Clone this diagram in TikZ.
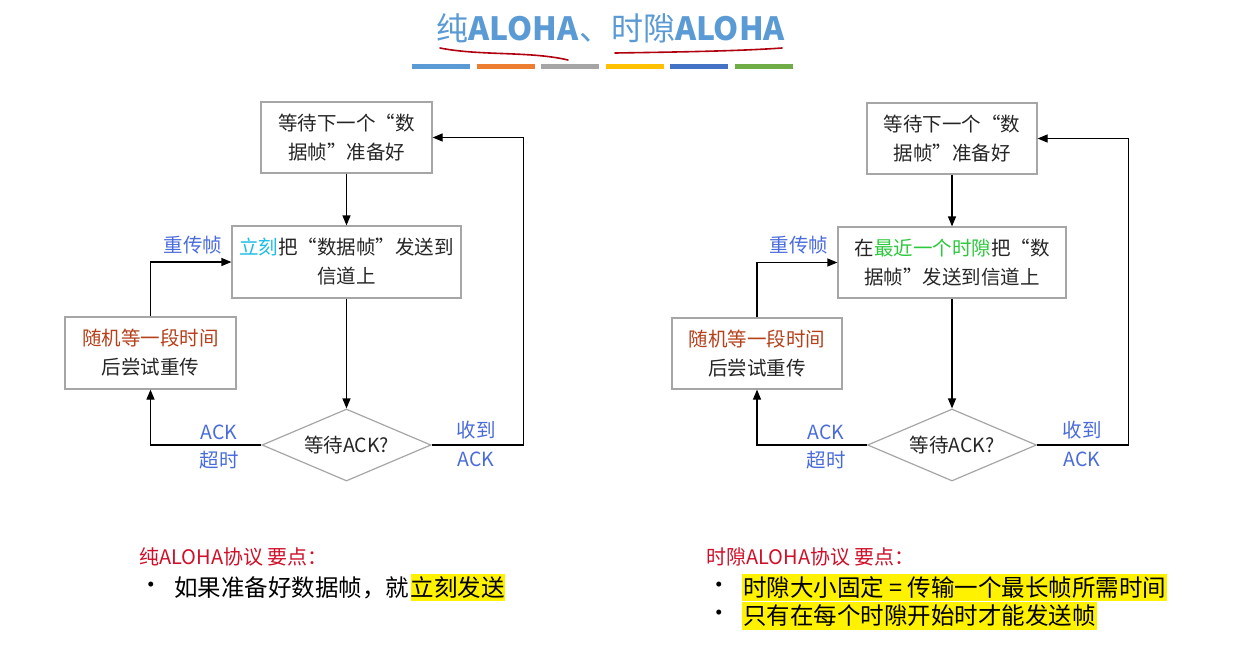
\documentclass[tikz,border=0pt]{standalone}
\usepackage{fontspec}
\setmainfont{Noto Sans CJK SC}
\usetikzlibrary{arrows.meta,shapes.geometric,positioning}

\definecolor{titleblue}{HTML}{5B9BD5}
\definecolor{baro}{HTML}{ED7D31}
\definecolor{barg}{HTML}{A5A5A5}
\definecolor{bary}{HTML}{FFC000}
\definecolor{barb}{HTML}{4472C4}
\definecolor{barv}{HTML}{70AD47}
\definecolor{penred}{HTML}{B00010}
\definecolor{boxgray}{HTML}{A6A6A6}
\definecolor{diagtext}{HTML}{262626}
\definecolor{nowcyan}{HTML}{1BBDE8}
\definecolor{slotgreen}{HTML}{2DC83C}
\definecolor{waitbrown}{HTML}{B5401A}
\definecolor{lblblue}{HTML}{4A6CDB}
\definecolor{notered}{HTML}{D0102A}

\newcommand{\diagfont}{\fontsize{19.5}{29}\selectfont}
\newcommand{\notefont}{\fontsize{23.5}{28}\selectfont}
\newcommand{\headfont}{\fontsize{20}{24}\selectfont}

\begin{document}
\begin{tikzpicture}[x=1pt, y=-1pt,
  box/.style={draw=boxgray, line width=1.2pt, fill=white, align=center,
    inner sep=0pt, text=diagtext, font=\diagfont},
  decide/.style={diamond, draw=boxgray, line width=1.2pt, fill=white,
    inner sep=0pt, shape aspect=2.35, minimum width=169pt,
    minimum height=72pt, text=diagtext, font=\diagfont},
  flow/.style={line width=1.2pt, -{Triangle[length=10pt,width=8pt]}},
  lbl/.style={text=lblblue, font=\diagfont, inner sep=0pt},
  head/.style={anchor=west, text=notered, font=\headfont, inner sep=0pt},
  note/.style={anchor=west, text=black, font=\notefont, inner xsep=1pt, inner ysep=2.8pt},
  hl/.style={note, fill=yellow}]
\useasboundingbox (0,0) rectangle (1237,646);
\fill[white] (0,0) rectangle (1237,646);

\node[text=titleblue, font=\fontsize{32}{36}\selectfont] (title) at (611,28)
  {纯\textbf{ALOHA}、时隙\textbf{ALOHA}};
\draw[penred, line width=1.6pt, line cap=round]
  (440,48) .. controls (480,56) and (530,51) .. (568,60);
\draw[penred, line width=1.6pt, line cap=round]
  (615,53) .. controls (680,52) and (740,51) .. (782,48);
\foreach \c [count=\i from 0] in {titleblue,baro,barg,bary,barb,barv}
  \fill[\c] ({412+\i*64.6},63.5) rectangle ++(58,5);

% pure ALOHA
\node[box, minimum width=171pt, minimum height=71pt] (waitL) at (346.5,137.5)
  {等待下一个“数\\据帧”准备好};
\node[box, minimum width=229pt, minimum height=72pt] (sendL) at (346.5,262)
  {\textcolor{nowcyan}{立刻}把“数据帧”发送到\\信道上};
\node[box, minimum width=171pt, minimum height=72pt] (retryL) at (150.5,353)
  {\textcolor{waitbrown}{随机等一段时间}\\后尝试重传};
\node[decide] (ackL) at (346.5,445) {等待ACK?};

\draw[flow] (waitL) -- (sendL);
\draw[flow] (sendL) -- (ackL);
\draw[flow] (ackL.east) -- ++(92,0) |- (waitL.east);
\draw[flow] (ackL.west) -| (retryL.south);
\draw[flow] (retryL.north) |- (sendL.west);

\node[lbl] (resendL) at (193,245) {重传帧};
\node[lbl] (toutaL) at (219,432) {ACK};
\node[lbl] (toutbL) at (219,460) {超时};
\node[lbl] (gotaL) at (476,430) {收到};
\node[lbl] (gotbL) at (476,459) {ACK};

% slotted ALOHA
\node[box, minimum width=170pt, minimum height=71pt] (waitR) at (952,138.5)
  {等待下一个“数\\据帧”准备好};
\node[box, minimum width=228pt, minimum height=71pt] (sendR) at (952,262.5)
  {在\textcolor{slotgreen}{最近一个时隙}把“数\\据帧”发送到信道上};
\node[box, minimum width=170pt, minimum height=71pt] (retryR) at (757,353.5)
  {\textcolor{waitbrown}{随机等一段时间}\\后尝试重传};
\node[decide] (ackR) at (952,445) {等待ACK?};

\draw[flow] (waitR) -- (sendR);
\draw[flow] (sendR) -- (ackR);
\draw[flow] (ackR.east) -- ++(91,0) |- (waitR.east);
\draw[flow] (ackR.west) -| (retryR.south);
\draw[flow] (retryR.north) |- (sendR.west);

\node[lbl] (resendR) at (799,245) {重传帧};
\node[lbl] (toutaR) at (826,432) {ACK};
\node[lbl] (toutbR) at (826,460) {超时};
\node[lbl] (gotaR) at (1082,430) {收到};
\node[lbl] (gotbR) at (1082,459) {ACK};

% key points
\node[head] (keyL) at (139,557) {纯ALOHA协议 要点：};
\node[note] (dotL) at (138,588) {•};
\node[note] (textL) at (173,588) {如果准备好数据帧，就};
\node[hl, anchor=base west, inner xsep=0pt] (hlL) at (textL.base east) {立刻发送};

\node[head] (keyR) at (706,557) {时隙ALOHA协议 要点：};
\node[note] (dotaR) at (706,588) {•};
\node[note] (dotbR) at (706,616) {•};
\node[hl] (slotaR) at (742,587.5) {时隙大小固定\ =\ 传输一个最长帧所需时间};
\node[hl] (slotbR) at (742,616) {只有在每个时隙开始时才能发送帧};
\end{tikzpicture}
\end{document}
